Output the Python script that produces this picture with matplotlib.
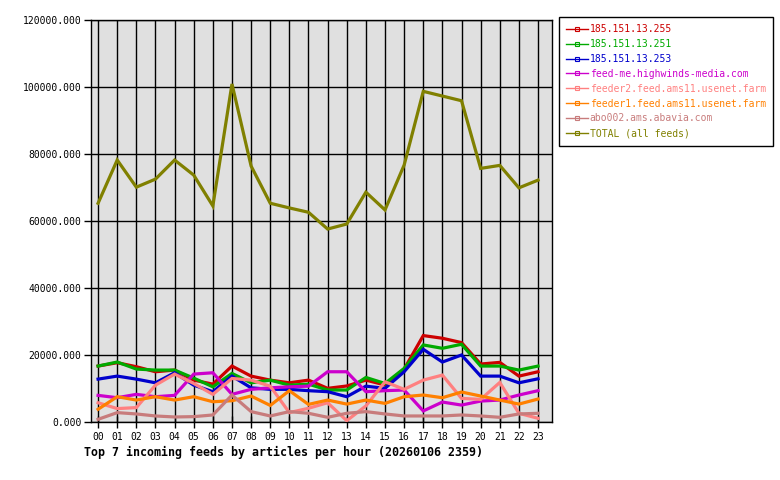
import numpy as np
import matplotlib
matplotlib.use("Agg")
import matplotlib.pyplot as plt
from matplotlib.ticker import FuncFormatter

plt.rcParams['font.family'] = ['DejaVu Sans Mono']

hours = ["%02d" % h for h in range(24)]

# articles per hour per feed
feed_255 = [16700, 17700, 16500, 15000, 15500, 12500, 11300, 16700, 13700, 12500, 11700, 12500,
            10050, 10750, 12500, 11050, 15800, 25800, 25000, 23700, 17300, 17800, 13700, 15000]
feed_251 = [16700, 17900, 15800, 15500, 15500, 13100, 10500, 14500, 11700, 12500, 11000, 11300,
            9550, 9550, 13300, 11500, 16000, 23000, 22000, 23200, 16700, 16700, 15500, 16700]
feed_253 = [12800, 13700, 12800, 11700, 14700, 11000, 9050, 13700, 10200, 9750, 9750, 9350,
            9050, 7550, 10700, 10050, 15000, 21700, 17900, 20000, 13700, 13700, 11700, 12900]
highwinds = [7950, 7250, 8250, 7550, 7950, 14300, 14700, 8250, 9750, 10200, 10500, 10700,
             15000, 15000, 9050, 9350, 9550, 3300, 5950, 5050, 6250, 6550, 8050, 9350]
feeder2 = [5750, 4000, 4300, 11000, 14300, 11500, 8250, 13000, 12500, 10700, 2800, 4100,
           5750, 400, 4800, 12000, 9750, 12500, 14000, 7050, 6750, 11800, 2600, 1100]
feeder1 = [3800, 7550, 6550, 7550, 6550, 7550, 6050, 6350, 7750, 4950, 9350, 5250,
           6550, 5350, 6550, 5550, 7550, 8050, 7250, 8950, 7750, 6550, 5350, 6850]
abavia = [800, 2800, 2400, 1800, 1500, 1600, 2100, 8050, 3100, 1800, 3100, 2600,
          1400, 2600, 3100, 2400, 1800, 1800, 1800, 2100, 1800, 1400, 2400, 2600]
total = [65300, 78200, 70100, 72500, 78200, 73700, 64500, 100900, 76400, 65300, 63900, 62600,
         57600, 59100, 68600, 63300, 76700, 98700, 97300, 95900, 75700, 76600, 69900, 72200]

series = [
    ("185.151.13.255", feed_255, "#cc0000"),
    ("185.151.13.251", feed_251, "#00aa00"),
    ("185.151.13.253", feed_253, "#0000cc"),
    ("feed-me.highwinds-media.com", highwinds, "#cc00cc"),
    ("feeder2.feed.ams11.usenet.farm", feeder2, "#ff8080"),
    ("feeder1.feed.ams11.usenet.farm", feeder1, "#ff8000"),
    ("abo002.ams.abavia.com", abavia, "#c87c7c"),
    ("TOTAL (all feeds)", total, "#808000"),
]

fig = plt.figure(figsize=(7.8, 4.8), dpi=100)
ax = fig.add_axes([91 / 780, 1 - 422 / 480, (552 - 91) / 780, (422 - 20) / 480])
ax.set_facecolor("#e0e0e0")

x = np.arange(24)
for name, vals, col in series:
    ax.plot(x, vals, color=col, lw=2.3, solid_joinstyle="miter", zorder=3)

ax.set_xlim(-0.37, 23.73)
ax.set_ylim(0, 120000)
ax.set_xticks(x)
ax.set_xticklabels(hours)
ax.set_yticks(np.arange(0, 120001, 20000))
ax.yaxis.set_major_formatter(FuncFormatter(lambda v, p: "%.3f" % v))
ax.grid(True, color="black", lw=1, zorder=1)
ax.set_axisbelow(True)
ax.tick_params(axis="x", direction="inout", length=8, width=1, labelsize=7, pad=3)
ax.tick_params(axis="y", direction="out", length=5, width=1, labelsize=7, pad=2)
for s in ax.spines.values():
    s.set_color("black")
    s.set_linewidth(1)

# legend: thin line with a small open square in the middle
handles = [plt.Line2D([], [], color=col, lw=1, marker="s", markersize=3,
                      markerfacecolor="none", markeredgewidth=0.8)
           for _, _, col in series]
leg = fig.legend(handles, [s[0] for s in series], loc="upper left",
                 bbox_to_anchor=(559 / 780, 1 - 17 / 480), borderaxespad=0,
                 fontsize=7, handlelength=2.2, handletextpad=0.2, labelspacing=0.5,
                 borderpad=0.75, fancybox=False, framealpha=1, edgecolor="black")
leg.get_frame().set_linewidth(1)
for txt, (_, _, col) in zip(leg.get_texts(), series):
    txt.set_color(col)

fig.text(84 / 780, 1 - 452 / 480, "Top 7 incoming feeds by articles per hour (20260106 2359)",
         fontsize=8.4, fontweight="bold", va="center", ha="left")

fig.savefig("out.png", dpi=100, facecolor="white")
